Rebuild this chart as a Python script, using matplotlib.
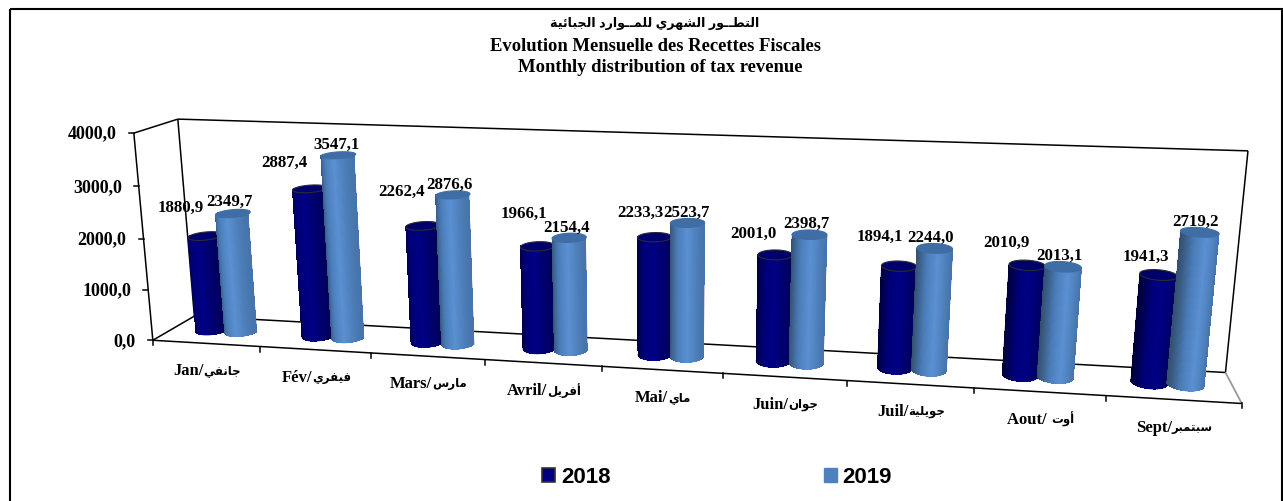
# plot.py - monthly tax revenue, drawn as perspective cylinders

import unicodedata

import matplotlib
matplotlib.use("Agg")
import matplotlib.pyplot as plt
import numpy as np
from matplotlib.collections import PolyCollection
from matplotlib.colors import LinearSegmentedColormap
from matplotlib.patches import Patch, Polygon, Rectangle

months_latin = ["Jan/", "Fév/", "Mars/", "Avril/", "Mai/", "Juin/", "Juil/", "Aout/ ", "Sept/"]
months_arabic = ["جانفي", "فيفري", "مارس", "أفريل", "ماي", "جوان", "جويلية", "أوت", "سبتمبر"]
values_2018 = [1880.9, 2887.4, 2262.4, 1966.1, 2233.3, 2001.0, 1894.1, 2010.9, 1941.3]
values_2019 = [2349.7, 3547.1, 2876.6, 2154.4, 2523.7, 2398.7, 2244.0, 2013.1, 2719.2]
value_ticks = [0, 1000, 2000, 3000, 4000]
title_arabic = "التطــور الشهري للمــوارد الجبائية"
title_french = "Evolution Mensuelle des Recettes Fiscales"
title_english = "Monthly distribution of tax revenue"

# label offsets from the centre of each cylinder top, in pixels
offsets_2018 = [(-25, -29), (-26, -27), (-21, -35), (-14, -33), (-14, -25), (-22, -22), (-19, -30), (-21, -23), (-13, -19)]
offsets_2019 = [(-3, -13), (-2, -11), (-3, -11), (-3, -11), (-1, -11), (-3, -12), (-4, -11), (-4, -12), (-4, -11)]

SERIF = ["Liberation Serif", "DejaVu Sans"]
RIGHT_JOINING = set("اأإآدذرزوؤةى")


def shape_arabic(text):
    """join arabic letters by hand and give them back in visual order"""
    out = []
    for i, c in enumerate(text):
        if not "\u0621" <= c <= "\u064a" or c == "\u0640":
            out.append(c)
            continue
        prev = text[i - 1] if i > 0 else " "
        nxt = text[i + 1] if i + 1 < len(text) else " "
        joins_prev = ("\u0621" <= prev <= "\u064a") and prev not in RIGHT_JOINING
        joins_next = ("\u0621" <= nxt <= "\u064a") and c not in RIGHT_JOINING
        if joins_prev and joins_next:
            form = " MEDIAL FORM"
        elif joins_prev:
            form = " FINAL FORM"
        elif joins_next:
            form = " INITIAL FORM"
        else:
            form = " ISOLATED FORM"
        out.append(unicodedata.lookup(unicodedata.name(c) + form))
    return "".join(reversed(out))


def fit_camera(world, pixels):
    """least squares 3x4 projection from (month, depth, value/4000) to pixels"""
    rows = []
    for (x, y, z), (px, py) in zip(world, pixels):
        rows.append([x, y, z, 1, 0, 0, 0, 0, -px * x, -px * y, -px * z, -px])
        rows.append([0, 0, 0, 0, x, y, z, 1, -py * x, -py * y, -py * z, -py])
    _, _, vt = np.linalg.svd(np.array(rows))
    return vt[-1].reshape(3, 4)


anchors_world = [(0, 0, 0), (9, 0, 0), (0, 0, 1), (0, 1, 0), (9, 1, 0), (0, 1, 1), (9, 1, 1),
                 (3, 0, 0), (6, 0, 0), (0, 0, 0.5)]
anchors_px = [(155, 340), (1241.7, 405), (133.5, 134), (193, 318), (1225.7, 371.7), (179, 120.7), (1248, 152),
              (485.5, 361.7), (846, 382.7), (141.7, 238.3)]
anchors_scaled = [(px / 1000, py / 1000) for px, py in anchors_px]
camera = fit_camera(anchors_world, anchors_scaled)


def project(month, depth, value):
    pts = np.stack([np.asarray(month, float) * np.ones_like(np.asarray(value, float)),
                    np.asarray(depth, float) * np.ones_like(np.asarray(value, float)),
                    np.asarray(value, float) / 4000,
                    np.ones_like(np.asarray(value, float))])
    x, y, w = camera @ pts
    return 1000 * x / w, 1000 * y / w


def draw_cylinder(ax, center, value, cmap, top_color, top_edge):
    """draw one cylinder from strips; return pixel centre of its top"""
    theta = np.linspace(0, 2 * np.pi, 121)
    us = center + 0.14 * np.cos(theta)
    ds = 0.52 + 0.22 * np.sin(theta)
    xb, yb = project(us, ds, np.zeros_like(us))
    xt, yt = project(us, ds, np.full_like(us, value))
    # silhouette first so the strip edges stay smooth, then the front half only
    body = np.vstack([np.column_stack([xb[60:], yb[60:]]), np.column_stack([xt[60:], yt[60:]])[::-1]])
    ax.add_patch(Polygon(body, closed=True, facecolor=cmap(0.5), edgecolor=cmap(0.02), linewidth=0.5, zorder=3))
    strips = [[(xb[k], yb[k]), (xb[k + 1], yb[k + 1]), (xt[k + 1], yt[k + 1]), (xt[k], yt[k])] for k in range(60, 120)]
    colors = [cmap(0.5 + 0.5 * np.cos(theta[k])) for k in range(60, 120)]
    ax.add_collection(PolyCollection(strips, facecolors=colors, edgecolors="none", antialiaseds=False, zorder=3))
    ax.add_patch(Polygon(np.column_stack([xt, yt]), closed=True, facecolor=top_color, edgecolor=top_edge,
                         linewidth=0.8, zorder=3))
    return project(center, 0.52, np.array(value))


fig = plt.figure(figsize=(12.83, 5.02), dpi=100)
ax = fig.add_axes([0, 0, 1, 1])
ax.set_xlim(0, 1283)
ax.set_ylim(502, 0)
ax.axis("off")
renderer = fig.canvas.get_renderer()

# outer frame, its bottom runs off the picture
ax.add_patch(Rectangle((9.5, 9.5), 1272, 520, fill=False, edgecolor="black", linewidth=1.5))

# titles
ax.text(655, 23, shape_arabic(title_arabic), ha="center", va="center", fontsize=9.1, fontweight="bold", family=["Liberation Sans", "DejaVu Sans"])
ax.text(655, 46.7, title_french, ha="center", va="center", fontsize=13.4, fontweight="bold", family=SERIF)
ax.text(660, 67.7, title_english, ha="center", va="center", fontsize=13.4, fontweight="bold", family=SERIF)


def edge(p, q, color="black", lw=1.1):
    x0, y0 = project(p[0], p[1], np.array(p[2]))
    x1, y1 = project(q[0], q[1], np.array(q[2]))
    ax.plot([x0, x1], [y0, y1], color=color, lw=lw, solid_capstyle="butt", zorder=1)


# walls and floor
edge((0, 1, 4000), (9, 1, 4000))
edge((0, 1, 0), (0, 1, 4000))
edge((9, 1, 0), (9, 1, 4000))
edge((0, 0, 4000), (0, 1, 4000))
edge((0, 1, 0), (9, 1, 0))
edge((0, 0, 0), (0, 1, 0))
edge((9, 0, 0), (9, 1, 0), color="#9a9a9a", lw=1.3)
edge((0, 0, 0), (0, 0, 4000))
edge((0, 0, 0), (9, 0, 0))

# value ticks
for tick in value_ticks:
    x, y = project(0, 0, np.array(tick))
    ax.plot([x - 5, x], [y, y], color="black", lw=1.1, zorder=1)
    ax.text(x - 17, y, f"{tick:.1f}".replace(".", ","), ha="right", va="center", fontsize=13, fontweight="bold", family=SERIF)

# month ticks and labels, latin part and smaller arabic part side by side
for i in range(len(months_latin) + 1):
    x, y = project(i, 0, np.array(0.0))
    ax.plot([x, x], [y, y + 5], color="black", lw=1.1, zorder=1)
for i, (latin, arabic) in enumerate(zip(months_latin, months_arabic)):
    x, y = project(i + 0.5, 0, np.array(0.0))
    left = ax.text(x, y + 27, latin, ha="left", va="center", fontsize=12, fontweight="bold", family=SERIF)
    right = ax.text(x, y + 27, shape_arabic(arabic), ha="left", va="center", fontsize=8.5, fontweight="bold", family=SERIF)
    w_left = left.get_window_extent(renderer).width
    w_right = right.get_window_extent(renderer).width
    left.set_x(x - (w_left + w_right) / 2 + 1)
    right.set_x(x - (w_left + w_right) / 2 + w_left + 1)

cmap_2018 = LinearSegmentedColormap.from_list("c2018", [(0, "#000038"), (0.3, "#00007a"), (0.6, "#000084"), (1, "#00005c")])
cmap_2019 = LinearSegmentedColormap.from_list("c2019", [(0, "#34506f"), (0.3, "#4a7cb8"), (0.6, "#5a90d2"), (1, "#4674ac")])

# cylinders with their labels
for i in range(len(values_2018)):
    for value, center, cmap, top, rim, off in (
        (values_2018[i], i + 0.365, cmap_2018, "#00006c", "#2b2b33", offsets_2018[i]),
        (values_2019[i], i + 0.64, cmap_2019, "#3f6da6", "#3f6da6", offsets_2019[i]),
    ):
        tx, ty = draw_cylinder(ax, center, value, cmap, top, rim)
        ax.text(tx + off[0], ty + off[1], f"{value:.1f}".replace(".", ","), ha="center", va="center",
                fontsize=12.2, fontweight="bold", family=SERIF, zorder=4)

handles = [Patch(facecolor="#000080", edgecolor="#333333", linewidth=1.2), Patch(facecolor="#4f81bd", edgecolor="#4f81bd")]
ax.legend(handles, ["2018", "2019"], ncol=2, loc="center", bbox_to_anchor=(717.3, 478), bbox_transform=ax.transData,
          frameon=False, handlelength=0.58, handleheight=0.58, handletextpad=0.25, columnspacing=9.63,
          prop={"family": "Liberation Sans", "weight": "bold", "size": 16})

fig.savefig("out.png", dpi=100)
